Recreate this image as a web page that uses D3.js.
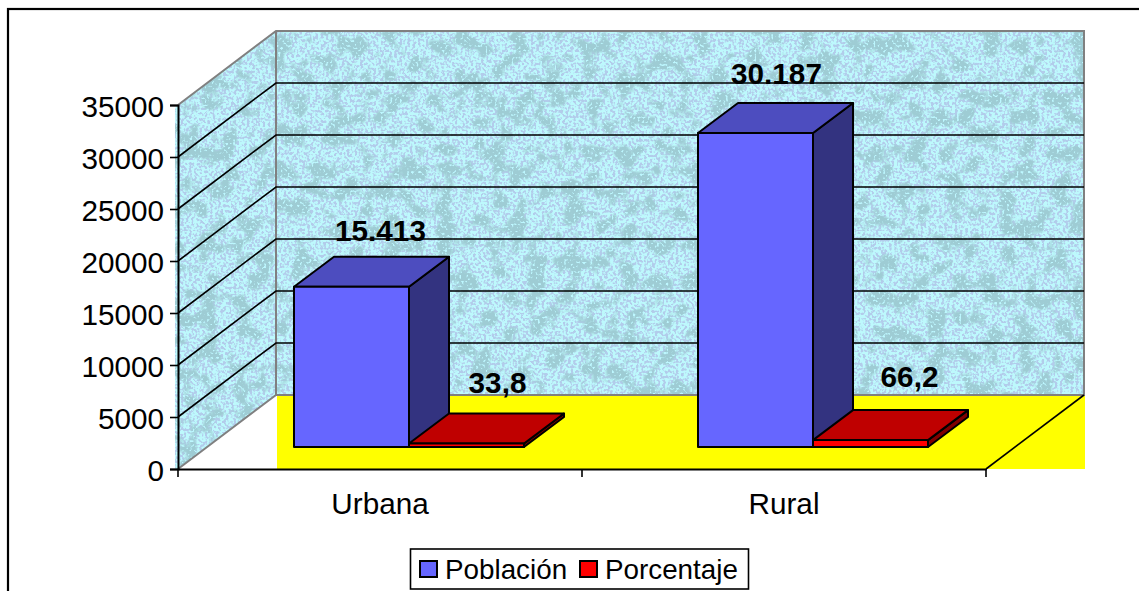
<!DOCTYPE html>
<html><head><meta charset="utf-8">
<script src="https://cdn.jsdelivr.net/npm/d3@7"></script>
<style>html,body{margin:0;padding:0;background:#fff;overflow:hidden}svg{display:block}text{font-family:"Liberation Sans",Arial,sans-serif;fill:#000}</style>
</head><body><svg id="c" width="1139" height="591"></svg>
<script>
const categories = ["Urbana", "Rural"];
const seriesNames = ["Población", "Porcentaje"];
const poblacion = [15413, 30187];
const porcentaje = [338, 662];
const poblacionLabels = ["15.413", "30.187"];
const porcentajeLabels = ["33,8", "66,2"];
const yTicks = [0, 5000, 10000, 15000, 20000, 25000, 30000, 35000];
const seriesColors = [
  {front:"#6666ff", top:"#4d4dbf", side:"#333380"},
  {front:"#ff0000", top:"#bf0000", side:"#800000"}
];

const svg = d3.select("#c");
const defs = svg.append("defs");
// water-drop texture
const f = defs.append("filter").attr("id","water").attr("x",0).attr("y",0).attr("width",1).attr("height",1)
  .attr("color-interpolation-filters","sRGB");
f.append("feFlood").attr("flood-color","#bdf9fc").attr("result","base");
f.append("feTurbulence").attr("type","fractalNoise").attr("baseFrequency",0.38).attr("numOctaves",1).attr("seed",3).attr("result","fine");
f.append("feColorMatrix").attr("in","fine").attr("type","matrix")
  .attr("values","0 0 0 0 0.70  0 0 0 0 0.80  0 0 0 0 0.92  9 0 0 0 -4.1").attr("result","speck");
f.append("feTurbulence").attr("type","fractalNoise").attr("baseFrequency",0.055).attr("numOctaves",2).attr("seed",11).attr("result","big");
f.append("feColorMatrix").attr("in","big").attr("type","matrix")
  .attr("values","0 0 0 0 0.62  0 0 0 0 0.80  0 0 0 0 0.83  7 0 0 0 -3.4").attr("result","blots");
f.append("feTurbulence").attr("type","fractalNoise").attr("baseFrequency",0.42).attr("numOctaves",1).attr("seed",21).attr("result","fine2");
f.append("feColorMatrix").attr("in","fine2").attr("type","matrix")
  .attr("values","0 0 0 0 0.74  0 0 0 0 0.97  0 0 0 0 1  0 7 0 0 -3.9").attr("result","speck2");
const m = f.append("feMerge");
m.append("feMergeNode").attr("in","base");
m.append("feMergeNode").attr("in","speck");
m.append("feMergeNode").attr("in","blots");
m.append("feMergeNode").attr("in","speck2");

const y0 = 469, yTop = 105, xL = 178, xR = 986;
const depth = {dx:98, dy:-74};
const barDepth = {dx:40, dy:-30};
const barOff = {dx:29, dy:-22};
const y = d3.scaleLinear().domain([0,35000]).range([y0,yTop]);
const x = d3.scaleBand().domain(categories).range([xL,xR]);
const inner = d3.scaleBand().domain(seriesNames).range([87, x.bandwidth()-87]);
const pt = (a)=>a.map(p=>p.join(",")).join(" ");

// chart frame (right and bottom sides lie outside the picture)
svg.append("rect").attr("x",8).attr("y",9).attr("width",1200).attr("height",700)
  .attr("fill","#fff").attr("stroke","#000").attr("stroke-width",2.2);

// floor
svg.append("rect").attr("x",xL+depth.dx+1).attr("y",y0+depth.dy).attr("width",xR-xL).attr("height",-depth.dy)
  .attr("fill","#ffff00");
// walls, both cut from one textured sheet
const clip = defs.append("clipPath").attr("id","walls");
clip.append("rect").attr("x",xL+depth.dx).attr("y",yTop+depth.dy).attr("width",xR-xL).attr("height",y0-yTop);
clip.append("polygon").attr("points",pt([[xL-3,yTop+3],[xL,yTop],[xL+depth.dx,yTop+depth.dy],[xL+depth.dx,y0+depth.dy],[xL,y0],[xL-3,y0]]));
svg.append("g").attr("clip-path","url(#walls)").append("rect")
  .attr("x",xL-4).attr("y",yTop+depth.dy).attr("width",xR-xL+depth.dx+6).attr("height",y0-yTop-depth.dy)
  .attr("fill","#bdf9fc").attr("filter","url(#water)");
// wall edges
const edge = svg.append("g").attr("stroke","#808080").attr("stroke-width",2).attr("fill","none");
edge.append("polyline").attr("points",pt([[xL,y0],[xL+depth.dx,y0+depth.dy],[xR+depth.dx,y0+depth.dy],[xR+depth.dx,yTop+depth.dy],[xL+depth.dx,yTop+depth.dy],[xL,yTop]]));
edge.append("line").attr("x1",xL+depth.dx).attr("x2",xL+depth.dx).attr("y1",yTop+depth.dy).attr("y2",y0+depth.dy);
// floor right edge
svg.append("line").attr("x1",xR).attr("y1",y0).attr("x2",xR+depth.dx).attr("y2",y0+depth.dy).attr("stroke","#000").attr("stroke-width",1.6);

// axes
const axY = d3.axisLeft(y).tickValues(yTicks).tickSize(8).tickPadding(6).tickFormat(d3.format("d"));
const gy = svg.append("g").attr("transform",`translate(${xL},0)`).call(axY);
const axX = d3.axisBottom(x).tickSize(0).tickPadding(0);
const gx = svg.append("g").attr("transform",`translate(0,${y0})`).call(axX);
[gy,gx].forEach(g=>{g.selectAll("path").attr("stroke","#000").attr("stroke-width",2);
  g.selectAll(".tick line").attr("stroke","#000").attr("stroke-width",1.6);
  g.selectAll("text").attr("font-size",29.7).attr("font-family",'"Liberation Sans",Arial,sans-serif').attr("fill","#000");});
gy.selectAll(".tick text").attr("transform","translate(0,2)");
gx.selectAll(".tick text").attr("y",0).attr("dy",0).attr("transform","translate(0,45)");
gx.selectAll(".tick line").remove();
[xL,xL+x.bandwidth(),xR].forEach(v=>svg.append("line").attr("x1",v).attr("x2",v).attr("y1",y0).attr("y2",y0+8).attr("stroke","#000").attr("stroke-width",1.6));

// gridlines
const grid = svg.append("g").attr("stroke","#000").attr("stroke-width",1.6).attr("fill","none");
yTicks.filter(t=>t>0&&t<35000).forEach(t=>{
  grid.append("polyline").attr("points",pt([[xL,y(t)],[xL+depth.dx,y(t)+depth.dy],[xR+depth.dx,y(t)+depth.dy]]));
});

// bars
function box(xs,w,v,c){
  const b = y0+barOff.dy, t = y(v)+barOff.dy, l = xs+barOff.dx, r = l+w, d=barDepth;
  const g = svg.append("g").attr("stroke","#000").attr("stroke-width",2).attr("stroke-linejoin","round");
  g.append("polygon").attr("points",pt([[r,b],[r+d.dx,b+d.dy],[r+d.dx,t+d.dy],[r,t]])).attr("fill",c.side);
  g.append("polygon").attr("points",pt([[l,t],[r,t],[r+d.dx,t+d.dy],[l+d.dx,t+d.dy]])).attr("fill",c.top);
  g.append("rect").attr("x",l).attr("y",t).attr("width",w).attr("height",b-t).attr("fill",c.front);
}
categories.forEach((cat,i)=>{
  [poblacion,porcentaje].forEach((s,k)=>{
    box(x(cat)+inner(seriesNames[k]),inner.bandwidth(),s[i],seriesColors[k]);
  });
});
// value labels, placed above each bar's rear top edge
const lbl = (cx,base,t)=>svg.append("text").attr("x",cx).attr("y",base).attr("text-anchor","middle").attr("font-size",29.7).attr("font-weight",700).text(t);
const nudgeA = [9,1], nudgeB = [11,19], raiseA = [16,19], raiseB = [20,23];
categories.forEach((cat,i)=>{
  const cOf = k=>x(cat)+inner(seriesNames[k])+barOff.dx+inner.bandwidth()/2+barDepth.dx/2;
  const yOf = v=>y(v)+barOff.dy+barDepth.dy;
  lbl(cOf(0)+nudgeA[i],yOf(poblacion[i])-raiseA[i],poblacionLabels[i]);
  lbl(cOf(1)+nudgeB[i],yOf(porcentaje[i])-raiseB[i],porcentajeLabels[i]);
});
// legend
const lg = svg.append("g");
lg.append("rect").attr("x",410.5).attr("y",549).attr("width",338).attr("height",40).attr("fill","#fff").attr("stroke","#000").attr("stroke-width",1.6);
const lgX = [420,580], txX=[445,605];
seriesNames.forEach((n,i)=>{
  lg.append("rect").attr("x",lgX[i]).attr("y",561).attr("width",17).attr("height",16).attr("fill",seriesColors[i].front).attr("stroke","#000").attr("stroke-width",2);
  lg.append("text").attr("x",txX[i]).attr("y",579).attr("font-size",27.8).text(n);
});
</script></body></html>
